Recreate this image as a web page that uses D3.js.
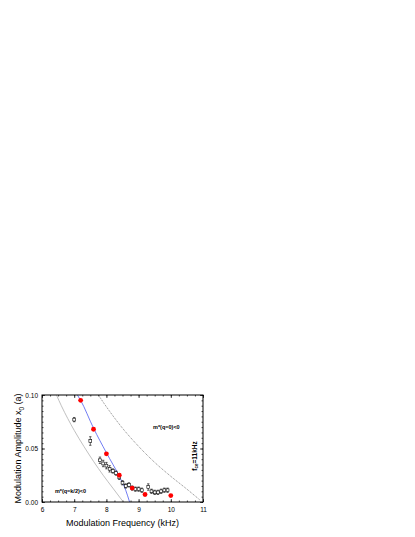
<!DOCTYPE html>
<html>
<head>
<meta charset="utf-8">
<script src="https://cdn.jsdelivr.net/npm/d3@7"></script>
<style>
  body { margin: 0; background: #fff; }
  text { font-family: "Liberation Sans", Arial, sans-serif; }
</style>
</head>
<body>
<div id="chart"></div>
<script>
// data
var redFreq = [7.2, 7.6, 8.0, 8.4, 8.8, 9.2, 10.0];
var redAmp  = [0.095, 0.068, 0.045, 0.025, 0.013, 0.007, 0.006];

var sqFreq = [7.0, 7.5, 7.8, 7.9, 8.0, 8.1, 8.2, 8.3, 8.4, 8.5, 8.6, 8.7, 8.8, 8.9, 9.0, 9.1, 9.3, 9.4, 9.5, 9.6, 9.7, 9.8, 9.9];
var sqAmp  = [0.077, 0.057, 0.039, 0.036, 0.034, 0.031, 0.029, 0.027, 0.023, 0.018, 0.015, 0.016, 0.013, 0.012, 0.012, 0.011, 0.014, 0.010, 0.009, 0.009, 0.010, 0.011, 0.011];
var sqErr  = [0.002, 0.004, 0.003, 0.003, 0.003, 0.003, 0.002, 0.002, 0.002, 0.002, 0.002, 0.002, 0.002, 0.002, 0.002, 0.002, 0.003, 0.002, 0.002, 0.002, 0.002, 0.002, 0.002];

var blueFreq = [7.1, 7.2, 7.6, 8.0, 8.4, 8.6, 8.72];
var blueAmp  = [0.100, 0.095, 0.069, 0.046, 0.024, 0.011, 0.0];

var grayFreq = [6.45, 6.6, 6.8, 7.0, 7.3, 7.6, 7.9, 8.2, 8.5];
var grayAmp  = [0.100, 0.090, 0.078, 0.067, 0.052, 0.038, 0.025, 0.013, 0.001];

var dotFreq = [7.75, 8.0, 8.5, 9.0, 9.5, 10.0, 10.5, 10.9];
var dotAmp  = [0.100, 0.089, 0.069, 0.052, 0.037, 0.024, 0.012, 0.002];

var xTicks = [6, 7, 8, 9, 10, 11];
var yTicks = [0.00, 0.05, 0.10];

var margin = {top: 395, left: 42},
    width = 161,
    height = 107;

var svg = d3.select("#chart")
    .append("svg")
    .attr("width", 415)
    .attr("height", 537);

var g = svg.append("g")
    .attr("transform", "translate(" + margin.left + "," + margin.top + ")");

var x = d3.scaleLinear().domain([6, 11]).range([0, width]);
var y = d3.scaleLinear().domain([0, 0.10]).range([height, 0]);

var line = d3.line()
    .x(d => x(d[0]))
    .y(d => y(d[1]))
    .curve(d3.curveMonotoneX);

g.append("defs").append("clipPath").attr("id", "clip")
    .append("rect").attr("width", width).attr("height", height);

var curves = g.append("g").attr("clip-path", "url(#clip)");

curves.append("path")
    .datum(d3.zip(grayFreq, grayAmp))
    .attr("d", line)
    .attr("fill", "none")
    .attr("stroke", "#b0b0b0")
    .attr("stroke-width", 0.8);

curves.append("path")
    .datum(d3.zip(dotFreq, dotAmp))
    .attr("d", line)
    .attr("fill", "none")
    .attr("stroke", "#555")
    .attr("stroke-width", 0.7)
    .attr("stroke-dasharray", "1,1");

curves.append("path")
    .datum(d3.zip(blueFreq, blueAmp))
    .attr("d", line)
    .attr("fill", "none")
    .attr("stroke", "#4d5cf0")
    .attr("stroke-width", 0.8);

// open squares with error bars
var sq = g.selectAll("g.sq")
    .data(d3.range(sqFreq.length))
    .enter().append("g");

sq.append("line")
    .attr("x1", i => x(sqFreq[i])).attr("x2", i => x(sqFreq[i]))
    .attr("y1", i => y(sqAmp[i] + sqErr[i])).attr("y2", i => y(sqAmp[i] - sqErr[i]))
    .attr("stroke", "#000").attr("stroke-width", 0.6);
sq.append("line")
    .attr("x1", i => x(sqFreq[i]) - 1.2).attr("x2", i => x(sqFreq[i]) + 1.2)
    .attr("y1", i => y(sqAmp[i] + sqErr[i])).attr("y2", i => y(sqAmp[i] + sqErr[i]))
    .attr("stroke", "#000").attr("stroke-width", 0.6);
sq.append("line")
    .attr("x1", i => x(sqFreq[i]) - 1.2).attr("x2", i => x(sqFreq[i]) + 1.2)
    .attr("y1", i => y(sqAmp[i] - sqErr[i])).attr("y2", i => y(sqAmp[i] - sqErr[i]))
    .attr("stroke", "#000").attr("stroke-width", 0.6);
sq.append("rect")
    .attr("x", i => x(sqFreq[i]) - 1.4)
    .attr("y", i => y(sqAmp[i]) - 1.4)
    .attr("width", 2.8).attr("height", 2.8)
    .attr("fill", "#fff").attr("stroke", "#000").attr("stroke-width", 0.6);

// red dots
g.selectAll("circle.red")
    .data(d3.range(redFreq.length))
    .enter().append("circle")
    .attr("cx", i => x(redFreq[i]))
    .attr("cy", i => y(redAmp[i]))
    .attr("r", 2.4)
    .attr("fill", "#f00");

// frame
g.append("rect")
    .attr("width", width).attr("height", height)
    .attr("fill", "none").attr("stroke", "#000").attr("stroke-width", 1);

// axes, ticks inside
var xMinor = d3.range(6, 11.01, 0.25);
var yMinor = d3.range(0, 0.1001, 0.005);

g.append("g")
    .attr("transform", "translate(0," + height + ")")
    .call(d3.axisBottom(x).tickValues(xTicks).tickSize(-3).tickPadding(5).tickFormat(d3.format("d")))
    .call(a => a.select(".domain").remove());
g.append("g")
    .attr("transform", "translate(0," + height + ")")
    .call(d3.axisBottom(x).tickValues(xMinor).tickSize(-1.5).tickFormat(""))
    .call(a => a.select(".domain").remove());
g.append("g")
    .call(d3.axisTop(x).tickValues(xTicks).tickSize(-3).tickFormat(""))
    .call(a => a.select(".domain").remove());
g.append("g")
    .call(d3.axisTop(x).tickValues(xMinor).tickSize(-1.5).tickFormat(""))
    .call(a => a.select(".domain").remove());

g.append("g")
    .call(d3.axisLeft(y).tickValues(yTicks).tickSize(-3).tickPadding(4).tickFormat(d3.format(".2f")))
    .call(a => a.select(".domain").remove());
g.append("g")
    .call(d3.axisLeft(y).tickValues(yMinor).tickSize(-1.5).tickFormat(""))
    .call(a => a.select(".domain").remove());
g.append("g")
    .attr("transform", "translate(" + width + ",0)")
    .call(d3.axisRight(y).tickValues(yTicks).tickSize(-3).tickFormat(""))
    .call(a => a.select(".domain").remove());
g.append("g")
    .attr("transform", "translate(" + width + ",0)")
    .call(d3.axisRight(y).tickValues(yMinor).tickSize(-1.5).tickFormat(""))
    .call(a => a.select(".domain").remove());

g.selectAll(".tick text")
    .style("font-size", "6.5px")
    .style("font-family", "'Liberation Sans', Arial, sans-serif");
g.selectAll(".tick line").attr("stroke-width", 0.7);

// axis titles
g.append("text")
    .attr("x", width / 2)
    .attr("y", height + 24)
    .attr("text-anchor", "middle")
    .style("font-size", "9px")
    .text("Modulation Frequency (kHz)");

var yt = g.append("text")
    .attr("transform", "rotate(-90)")
    .attr("x", -height / 2)
    .attr("y", -21)
    .attr("text-anchor", "middle")
    .style("font-size", "9px");
yt.append("tspan").text("Modulation Amplitude x");
yt.append("tspan").attr("dy", 2.5).style("font-size", "6.5px").text("0");
yt.append("tspan").attr("dy", -2.5).text(" (a)");

// annotations
g.append("text")
    .attr("x", x(6.4)).attr("y", y(0.008))
    .style("font-size", "5.5px").style("font-weight", "bold")
    .text("m*(q=k/2)<0");

g.append("text")
    .attr("x", x(9.45)).attr("y", y(0.068))
    .style("font-size", "5.5px").style("font-weight", "bold")
    .text("m*(q=0)<0");

var ft = g.append("text")
    .attr("transform", "translate(" + x(10.8) + "," + y(0.043) + ") rotate(-90)")
    .attr("text-anchor", "middle")
    .style("font-size", "6.5px").style("font-weight", "bold");
ft.append("tspan").text("f");
ft.append("tspan").attr("dy", 1.8).style("font-size", "4.5px").text("ce");
ft.append("tspan").attr("dy", -1.8).text("=11kHz");
</script>
</body>
</html>
